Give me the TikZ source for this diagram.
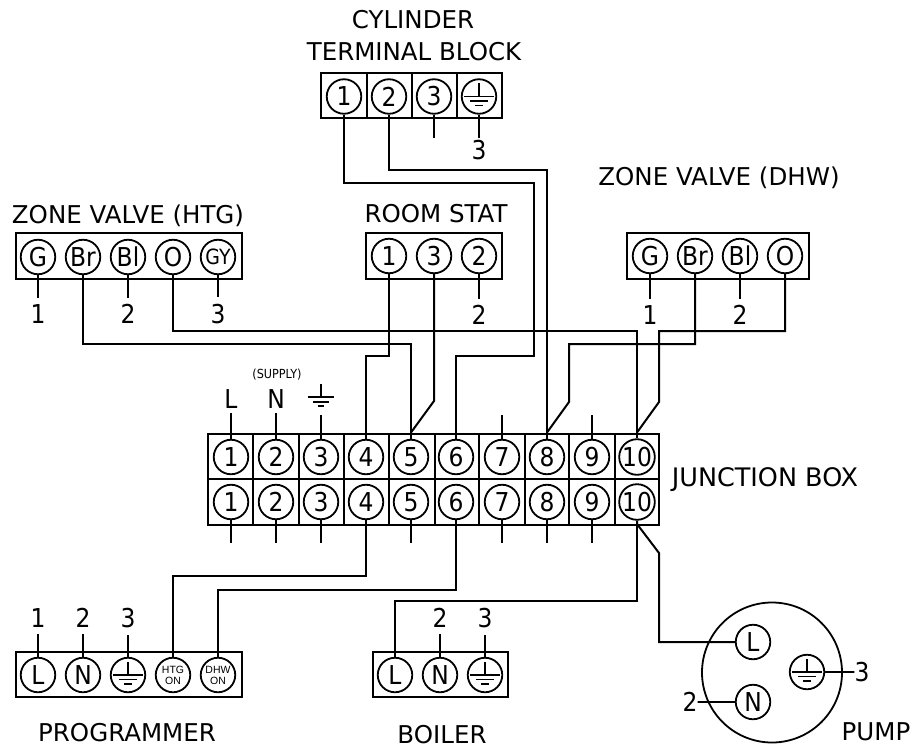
\documentclass[tikz,border=0pt]{standalone}
\usepackage{fontspec}
\setmainfont{DejaVu Sans Condensed}
\setsansfont{Liberation Sans}
\newfontfamily\titlefont{DejaVu Sans}
\usetikzlibrary{calc}
\def\earthsym[#1](#2){\draw[#1, shift={(#2)}] (0,-13) -- (0,0) (-15,0) -- (15,0) (-9,4.5) -- (9,4.5) (-4,9) -- (4,9);}
\tikzset{
	wire/.style={line width=2pt},
	tick/.style={wire, shorten >=6.5pt},
	strip/.style={draw, line width=2pt, inner sep=0pt},
	term/.style={circle, draw, line width=1.8pt, minimum size=34.5pt, inner sep=0pt, font=\fontsize{26}{26}\selectfont},
	tiny term/.style={term, font=\sffamily\fontsize{10.5}{11}\selectfont, align=center},
	lab/.style={inner sep=0pt, font=\fontsize{26}{26}\selectfont},
	title/.style={inner sep=0pt, font=\titlefont\fontsize{24.5}{25}\selectfont},
}
\begin{document}
\begin{tikzpicture}[x=1pt, y=-1pt]
	%%%%% START %%%%%
	\useasboundingbox (0, 0) rectangle (915, 751);

	% titles
	\node[title] (cyltitle) at (413, 20) {CYLINDER};
	\node[title] (blocktitle) at (414, 52) {TERMINAL BLOCK};
	\node[title] (htgtitle) at (128, 216) {ZONE VALVE (HTG)};
	\node[title] (roomtitle) at (436, 214) {ROOM STAT};
	\node[title] (dhwtitle) at (719, 178) {ZONE VALVE (DHW)};
	\node[title, font=\titlefont\fontsize{25.5}{26}\selectfont] (jbtitle) at (765, 480) {JUNCTION BOX};
	\node[title] (progtitle) at (127, 733) {PROGRAMMER};
	\node[title] (boilertitle) at (442, 735) {BOILER};
	\node[title] (pumptitle) at (876, 732) {PUMP};
	\node[inner sep=0pt, font=\fontsize{12.5}{13}\selectfont] (supply) at (277, 375) {(SUPPLY)};

	% cylinder terminal block
	\node[strip, minimum width=181, minimum height=45] (cylbox) at (411.5, 95.5) {};
	\draw[wire] (367, 73) -- (367, 118);
	\draw[wire] (412, 73) -- (412, 118);
	\draw[wire] (457, 73) -- (457, 118);
	\node[term] (cyl1) at (344, 96.5) {1};
	\node[term] (cyl2) at (389, 96.5) {2};
	\node[term] (cyl3) at (434, 96.5) {3};
	\node[term] (cyl4) at (479, 96.5) {};
	\earthsym[line width=1.8pt](cyl4)
	\coordinate (cyl3end) at (434, 138);
	\node[lab] (cyl4lab) at (479, 150) {3};
	\draw[wire] (cyl3) -- (cyl3end);
	\draw[tick, shorten >=2pt] (cyl4) -- (cyl4lab.north);

	% zone valve htg
	\node[strip, minimum width=226, minimum height=45] (htgbox) at (128.5, 256) {};
	\node[term] (htgg) at (38, 257) {G};
	\node[term] (htgbr) at (83, 257) {Br};
	\node[term] (htgbl) at (128, 257) {Bl};
	\node[term] (htgo) at (173, 257) {O};
	\node[term, font=\fontsize{21}{22}\selectfont] (htggy) at (218, 257) {GY};
	\node[lab] (htg1) at (38, 314) {1};
	\node[lab] (htg2) at (128, 314) {2};
	\node[lab] (htg3) at (218, 314) {3};
	\draw[tick] (htgg) -- (htg1.north);
	\draw[tick] (htgbl) -- (htg2.north);
	\draw[tick] (htggy) -- (htg3.north);

	% room stat
	\node[strip, minimum width=136, minimum height=45] (roombox) at (434, 256) {};
	\node[term] (room1) at (389, 256) {1};
	\node[term] (room3) at (434, 256) {3};
	\node[term] (room2) at (479, 256) {2};
	\node[lab] (room2lab) at (479, 315) {2};
	\draw[tick] (room2) -- (room2lab.north);

	% zone valve dhw
	\node[strip, minimum width=182, minimum height=45] (dhwbox) at (718, 256) {};
	\node[term] (dhwg) at (650, 256) {G};
	\node[term] (dhwbr) at (695, 256) {Br};
	\node[term] (dhwbl) at (740, 256) {Bl};
	\node[term] (dhwo) at (785, 256) {O};
	\node[lab] (dhw1) at (650, 315) {1};
	\node[lab] (dhw2) at (740, 315) {2};
	\draw[tick] (dhwg) -- (dhw1.north);
	\draw[tick] (dhwbl) -- (dhw2.north);

	% junction box
	\node[strip, minimum width=451, minimum height=45.5] (jbtop) at (433.5, 456.25) {};
	\node[strip, minimum width=451, minimum height=45.5] (jbbot) at (433.5, 501.75) {};
	\draw[wire] (253, 433) -- (253, 524);
	\draw[wire] (299, 433) -- (299, 524);
	\draw[wire] (344, 433) -- (344, 524);
	\draw[wire] (389, 433) -- (389, 524);
	\draw[wire] (435, 433) -- (435, 524);
	\draw[wire] (479, 433) -- (479, 524);
	\draw[wire] (525, 433) -- (525, 524);
	\draw[wire] (569, 433) -- (569, 524);
	\draw[wire] (615, 433) -- (615, 524);

	\node[term] (jt1) at (231, 457) {1};
	\node[term] (jt2) at (276, 457) {2};
	\node[term] (jt3) at (321, 457) {3};
	\node[term] (jt4) at (366, 457) {4};
	\node[term] (jt5) at (411, 457) {5};
	\node[term] (jt6) at (456, 457) {6};
	\node[term] (jt7) at (502, 457) {7};
	\node[term] (jt8) at (547, 457) {8};
	\node[term] (jt9) at (592, 457) {9};
	\node[term] (jt10) at (637, 457) {10};

	\node[term] (jb1) at (231, 502) {1};
	\node[term] (jb2) at (276, 502) {2};
	\node[term] (jb3) at (321, 502) {3};
	\node[term] (jb4) at (366, 502) {4};
	\node[term] (jb5) at (411, 502) {5};
	\node[term] (jb6) at (456, 502) {6};
	\node[term] (jb7) at (502, 502) {7};
	\node[term] (jb8) at (547, 502) {8};
	\node[term] (jb9) at (592, 502) {9};
	\node[term] (jb10) at (637, 502) {10};

	% supply side
	\node[lab] (supl) at (231, 399) {L};
	\node[lab] (supn) at (276, 399) {N};
	\coordinate (supe) at (321, 397);
	\earthsym[line width=2pt, xscale=0.87, yscale=1.0](supe)
	\coordinate (supeend) at (321, 415);
	\draw[tick, shorten >=4pt] (jt1) -- (supl.south);
	\draw[tick, shorten >=4pt] (jt2) -- (supn.south);
	\draw[wire] (jt3) -- (supeend);

	% free ends of the junction box
	\coordinate (jt7end) at (502, 415);
	\coordinate (jt9end) at (592, 415);
	\draw[wire] (jt7) -- (jt7end);
	\draw[wire] (jt9) -- (jt9end);
	\coordinate (jb1end) at (231, 543);
	\coordinate (jb2end) at (276, 543);
	\coordinate (jb3end) at (321, 543);
	\coordinate (jb5end) at (411, 543);
	\coordinate (jb7end) at (502, 543);
	\coordinate (jb8end) at (547, 543);
	\coordinate (jb9end) at (592, 543);
	\draw[wire] (jb1) -- (jb1end);
	\draw[wire] (jb2) -- (jb2end);
	\draw[wire] (jb3) -- (jb3end);
	\draw[wire] (jb5) -- (jb5end);
	\draw[wire] (jb7) -- (jb7end);
	\draw[wire] (jb8) -- (jb8end);
	\draw[wire] (jb9) -- (jb9end);

	% programmer
	\node[strip, minimum width=226, minimum height=45] (progbox) at (128.5, 674.5) {};
	\node[term] (progl) at (38, 675) {L};
	\node[term] (progn) at (83, 675) {N};
	\node[term] (proge) at (128, 675) {};
	\earthsym[line width=1.8pt](proge)
	\node[tiny term] (proghtg) at (173, 675) {HTG\\ON};
	\node[tiny term] (progdhw) at (218, 675) {DHW\\ON};
	\node[lab] (prog1) at (38, 618) {1};
	\node[lab] (prog2) at (83, 618) {2};
	\node[lab] (prog3) at (128, 618) {3};
	\draw[tick] (progl) -- (prog1.south);
	\draw[tick] (progn) -- (prog2.south);
	\draw[tick] (proge) -- (prog3.south);

	% boiler
	\node[strip, minimum width=135, minimum height=45] (boilerbox) at (440.5, 674.5) {};
	\node[term] (boill) at (395, 675) {L};
	\node[term] (boiln) at (440, 675) {N};
	\node[term] (boile) at (485, 675) {};
	\earthsym[line width=1.8pt](boile)
	\node[lab] (boil2) at (440, 618) {2};
	\node[lab] (boil3) at (485, 618) {3};
	\draw[tick] (boiln) -- (boil2.south);
	\draw[tick] (boile) -- (boil3.south);

	% pump
	\node[circle, draw, line width=1.8pt, minimum size=140, inner sep=0pt] (pumpbody) at (772, 672.5) {};
	\node[term] (pumpl) at (753, 642) {L};
	\node[term] (pumpn) at (753, 702) {N};
	\node[term] (pumpe) at (807, 672) {};
	\earthsym[line width=1.8pt](pumpe)
	\node[lab] (pump3) at (862, 672) {3};
	\node[lab] (pump2) at (690, 702) {2};
	\draw[wire] (pumpe) -- (pump3.west) -- ++(-2, 0);
	\draw[wire] (pumpn) -- (pump2.east) -- ++(2, 0);

	% wiring
	\draw[wire] (cyl1) |- (534, 183) -- (534, 356) -| (jt6);
	\draw[wire] (cyl2) |- (547, 170) -- (jt8);
	\draw[wire] (room1) |- (366, 356) -- (jt4);
	\draw[wire] (room3) -- (434, 401) -- (jt5 |- jbtop.north);
	\draw[wire] (htgbr) |- (411, 344) -- (jt5);
	\draw[wire] (htgo) |- (637, 331) -- (jt10);
	\draw[wire] (dhwbr) |- (569, 344) -- (569, 402) -- (jt8 |- jbtop.north);
	\draw[wire] (dhwo) |- (659, 331) -- (659, 402) -- (jt10 |- jbtop.north);
	\draw[wire] (jb4) |- (173, 576) -- (proghtg);
	\draw[wire] (jb6) |- (218, 590) -- (progdhw);
	\draw[wire] (jb10) |- (395, 601) -- (boill);
	\draw[wire] (jb10) -- (637, 524) -- (659, 553) -- (659, 642) -- (pumpl);
	%%%%% END %%%%%
\end{tikzpicture}
\end{document}
